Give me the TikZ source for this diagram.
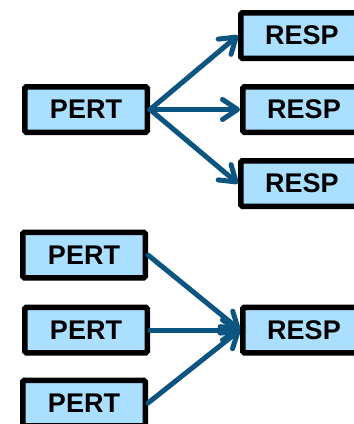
\documentclass[tikz,border=0pt]{standalone}
\usepackage{fontspec}
\setmainfont{Liberation Sans}
\usetikzlibrary{arrows.meta}
\definecolor{boxfill}{HTML}{ABDFFF}
\definecolor{linkblue}{HTML}{0B5580}
\begin{document}
\begin{tikzpicture}[x=1pt,y=-1pt,
  box/.style={draw=black, fill=boxfill, line width=5.5pt, rounded corners=1.5pt,
    minimum width=122.5pt, minimum height=45.5pt, inner sep=0pt,
    font=\fontsize{27}{30}\selectfont\bfseries},
  link/.style={draw=linkblue, line width=5pt, line cap=round,
    -{Straight Barb[length=15pt, width=20pt, line cap=round, line join=round]}}]
\useasboundingbox (0,0) rectangle (354,424);
\begin{scope}
\clip (0,0) rectangle (354,424);
% one perturbation fanning out to three responses
\node[box] (p)  at (86,109.5)  {PERT};
\node[box] (r1) at (302,35.5)  {RESP};
\node[box] (r2) at (304,109.5) {RESP};
\node[box] (r3) at (302,183.5) {RESP};
% three perturbations converging on one response
\node[box] (q1) at (84,255)  {PERT};
\node[box] (q2) at (86,330)  {PERT};
\node[box] (q3) at (84,403)  {PERT};
\node[box] (s)  at (304,330) {RESP};
\end{scope}
\draw[link] (p.east) -- (r1.west);
\draw[link] (p.east) -- (r2.west);
\draw[link] (p.east) -- (r3.west);
\draw[link] (q1.east) -- (s.west);
\draw[link] (q2.east) -- (s.west);
\draw[link] (q3.east) -- (s.west);
\end{tikzpicture}
\end{document}
